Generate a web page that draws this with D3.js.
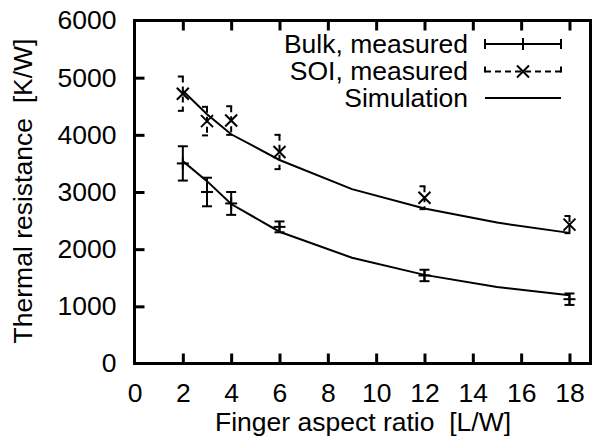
<html>
<head>
<style>
  body { margin: 0; background: #fff; }
  text { font-family: "Liberation Sans", Arial, sans-serif; font-size: 26.5px; fill: #000; }
</style>
</head>
<body>
<div id="viz"></div>
<script src="https://d3js.org/d3.v7.min.js"></script>
<script>
var width = 594, height = 445;

// data
var bulkX = [2, 3, 4, 6, 12, 18];
var bulkY = [3500, 3000, 2800, 2390, 1540, 1125];
var bulkErr = [300, 250, 200, 95, 100, 100];

var soiX = [2, 3, 4, 6, 12, 18];
var soiY = [4720, 4240, 4250, 3700, 2900, 2430];
var soiErr = [300, 250, 250, 300, 200, 150];

var simX = [2, 3, 4, 6, 9, 12, 15, 18];
var simBulk = [3540, 3190, 2790, 2305, 1850, 1550, 1340, 1195];
var simSoi = [4770, 4360, 4010, 3560, 3050, 2710, 2465, 2285];

var xTicks = [0, 2, 4, 6, 8, 10, 12, 14, 16, 18];
var yTicks = [0, 1000, 2000, 3000, 4000, 5000, 6000];
var legendLabels = ["Bulk, measured", "SOI, measured", "Simulation"];

var pLeft = 134.5, pRight = 590.5, pTop = 20.5, pBottom = 363.5;
var xMax = 18.87;

var svg = d3.select("#viz").append("svg")
  .attr("width", width).attr("height", height);

var x = d3.scaleLinear().domain([0, xMax]).range([pLeft, pRight]);
var y = d3.scaleLinear().domain([0, 6000]).range([pBottom, pTop]);

// axes, ticks pointing inward
var xAxis = svg.append("g")
  .attr("transform", "translate(0," + pBottom + ")")
  .call(d3.axisBottom(x).tickValues(xTicks).tickSize(-10).tickPadding(19.5).tickFormat(d3.format("d")));
var xTopAxis = svg.append("g")
  .attr("transform", "translate(0," + pTop + ")")
  .call(d3.axisTop(x).tickValues(xTicks.slice(1)).tickSize(-10).tickFormat(""));
var yAxis = svg.append("g")
  .attr("transform", "translate(" + pLeft + ",0)")
  .call(d3.axisLeft(y).tickValues(yTicks).tickSize(-10).tickPadding(18).tickFormat(d3.format("d")));

[xAxis, xTopAxis, yAxis].forEach(function (g) {
  g.attr("font-family", null).attr("font-size", null);
  g.select(".domain").remove();
  g.selectAll("line").attr("stroke", "#000").attr("stroke-width", 3);
  g.selectAll("text").attr("fill", "#000");
});
xAxis.selectAll(".tick").filter(function (d) { return d === 0; }).select("line").remove();
yAxis.selectAll(".tick").filter(function (d) { return d === 0 || d === 6000; }).select("line").remove();

// simulation lines
var line = d3.line().x(function (d) { return x(d[0]); }).y(function (d) { return y(d[1]); });
[simBulk, simSoi].forEach(function (s) {
  svg.append("path")
    .datum(simX.map(function (v, i) { return [v, s[i]]; }))
    .attr("d", line)
    .attr("fill", "none")
    .attr("stroke", "#000")
    .attr("stroke-width", 2);
});

var cap = 5, ms = 6;

function errorBars(xs, ys, es, dash, marker) {
  var g = svg.append("g").attr("stroke", "#000").attr("stroke-width", 2).attr("fill", "none");
  xs.forEach(function (xv, i) {
    var cx = x(xv), y1 = y(ys[i] + es[i]), y0 = y(ys[i] - es[i]), cy = y(ys[i]);
    g.append("line").attr("x1", cx).attr("x2", cx).attr("y1", y1).attr("y2", y0).attr("stroke-dasharray", dash);
    g.append("line").attr("x1", cx - cap).attr("x2", cx + cap).attr("y1", y1).attr("y2", y1).attr("stroke-dasharray", dash);
    g.append("line").attr("x1", cx - cap).attr("x2", cx + cap).attr("y1", y0).attr("y2", y0).attr("stroke-dasharray", dash);
    marker(g, cx, cy);
  });
}

function plus(g, cx, cy) {
  g.append("line").attr("x1", cx - ms).attr("x2", cx + ms).attr("y1", cy).attr("y2", cy);
  g.append("line").attr("x1", cx).attr("x2", cx).attr("y1", cy - ms).attr("y2", cy + ms);
}
function cross(g, cx, cy) {
  g.append("line").attr("x1", cx - ms).attr("x2", cx + ms).attr("y1", cy - ms).attr("y2", cy + ms);
  g.append("line").attr("x1", cx - ms).attr("x2", cx + ms).attr("y1", cy + ms).attr("y2", cy - ms);
}

errorBars(bulkX, bulkY, bulkErr, null, plus);
errorBars(soiX, soiY, soiErr, "6,4", cross);

// legend
var legY = [44, 71.5, 98];
var lx0 = 485, lx1 = 561, lxm = (lx0 + lx1) / 2;
var lg = svg.append("g");
legendLabels.forEach(function (t, i) {
  lg.append("text").attr("x", 468).attr("y", legY[i] + 8.5).attr("text-anchor", "end").text(t);
});
var ls = lg.append("g").attr("stroke", "#000").attr("stroke-width", 2);
// bulk sample
ls.append("line").attr("x1", lx0).attr("x2", lx1).attr("y1", legY[0]).attr("y2", legY[0]);
ls.append("line").attr("x1", lx0).attr("x2", lx0).attr("y1", legY[0] - cap).attr("y2", legY[0] + cap);
ls.append("line").attr("x1", lx1).attr("x2", lx1).attr("y1", legY[0] - cap).attr("y2", legY[0] + cap);
plus(ls, lxm, legY[0]);
// soi sample
ls.append("line").attr("x1", lx0).attr("x2", lx1).attr("y1", legY[1]).attr("y2", legY[1]).attr("stroke-dasharray", "6,4");
ls.append("line").attr("x1", lx0).attr("x2", lx0).attr("y1", legY[1] - cap).attr("y2", legY[1] + cap).attr("stroke-dasharray", "6,4");
ls.append("line").attr("x1", lx1).attr("x2", lx1).attr("y1", legY[1] - cap).attr("y2", legY[1] + cap).attr("stroke-dasharray", "6,4");
cross(ls, lxm, legY[1]);
// simulation sample
ls.append("line").attr("x1", lx0).attr("x2", lx1).attr("y1", legY[2]).attr("y2", legY[2]);

// frame
svg.append("rect")
  .attr("x", pLeft).attr("y", pTop)
  .attr("width", pRight - pLeft).attr("height", pBottom - pTop)
  .attr("fill", "none").attr("stroke", "#000").attr("stroke-width", 3);

// axis titles
svg.append("text")
  .attr("x", 363).attr("y", 431)
  .attr("text-anchor", "middle")
  .style("white-space", "pre")
  .text("Finger aspect ratio  [L/W]");
svg.append("text")
  .attr("transform", "translate(32,191) rotate(-90)")
  .attr("text-anchor", "middle")
  .style("white-space", "pre")
  .text("Thermal resistance  [K/W]");
</script>
</body>
</html>
